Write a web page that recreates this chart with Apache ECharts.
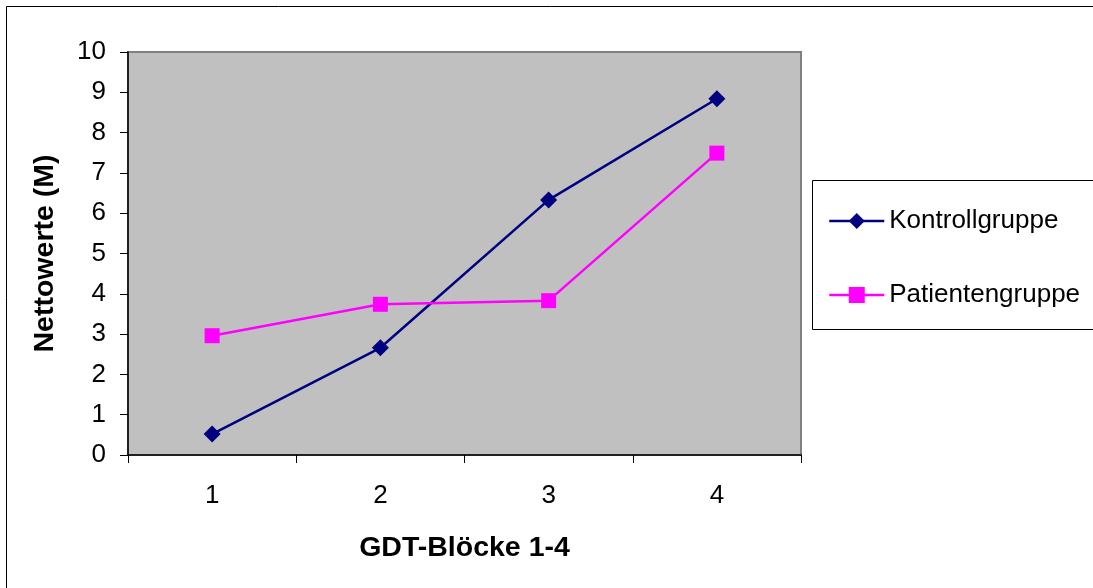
<!DOCTYPE html>
<html>
<head>
<meta charset="utf-8">
<script src="https://cdn.jsdelivr.net/npm/echarts@6/dist/echarts.min.js"></script>
<style>
  html, body { margin: 0; padding: 0; background: #fff; }
  #chart { width: 1093px; height: 588px; }
</style>
</head>
<body>
<div id="chart"></div>
<script>
// GDT blocks on the x axis
const blocks = ['1', '2', '3', '4'];
// Mean net scores per block
const kontrollgruppe = [0.52, 2.66, 6.33, 8.84];
const patientengruppe = [2.96, 3.74, 3.83, 7.49];
const seriesNames = ['Kontrollgruppe', 'Patientengruppe'];
const xTitle = 'GDT-Blöcke 1-4';
const yTitle = 'Nettowerte (M)';

const FONT = '"Liberation Sans", Arial, sans-serif';

const chart = echarts.init(document.getElementById('chart'), null, { renderer: 'canvas' });

chart.setOption({
  backgroundColor: '#ffffff',
  animation: false,
  textStyle: { fontFamily: FONT, color: '#000' },
  graphic: [
    // outer chart frame
    { type: 'rect', z: -10, shape: { x: 6.5, y: 6.5, width: 1200, height: 700 },
      style: { fill: 'none', stroke: '#000', lineWidth: 1 } },
    // legend frame
    { type: 'rect', z: 5, shape: { x: 812.5, y: 180.5, width: 400, height: 149 },
      style: { fill: '#fff', stroke: '#000', lineWidth: 1 } }
  ],
  grid: {
    left: 128, right: 292, top: 52, bottom: 133,
    show: true, backgroundColor: '#c0c0c0',
    borderColor: '#808080', borderWidth: 2
  },
  legend: {
    orient: 'vertical',
    left: 823, top: 203,
    itemWidth: 55, itemHeight: 20,
    itemGap: 48,
    z: 10,
    lineStyle: { width: 2.5 },
    textStyle: { fontFamily: FONT, fontSize: 26, color: '#000' },
    data: seriesNames
  },
  xAxis: {
    type: 'category',
    data: blocks,
    boundaryGap: true,
    name: xTitle,
    nameLocation: 'middle',
    nameGap: 79,
    nameTextStyle: { fontFamily: FONT, fontSize: 28.5, fontWeight: 'bold', color: '#000' },
    axisLine: { lineStyle: { color: '#000', width: 1.5 } },
    axisTick: { show: true, length: 8, alignWithLabel: false, lineStyle: { color: '#000' } },
    axisLabel: { fontFamily: FONT, fontSize: 26, color: '#000', margin: 28 },
    splitLine: { show: false }
  },
  yAxis: {
    type: 'value',
    min: 0, max: 10, interval: 1,
    name: yTitle,
    nameLocation: 'middle',
    nameGap: 68,
    nameTextStyle: { fontFamily: FONT, fontSize: 28.5, fontWeight: 'bold', color: '#000' },
    axisLine: { show: true, lineStyle: { color: '#000', width: 1.5 } },
    axisTick: { show: true, length: 8, lineStyle: { color: '#000' } },
    axisLabel: { fontFamily: FONT, fontSize: 26, color: '#000', margin: 22 },
    splitLine: { show: false }
  },
  series: [
    {
      name: seriesNames[0],
      type: 'line',
      data: kontrollgruppe,
      symbol: 'diamond',
      symbolSize: 17,
      lineStyle: { color: '#000080', width: 2.5 },
      itemStyle: { color: '#000080' }
    },
    {
      name: seriesNames[1],
      type: 'line',
      data: patientengruppe,
      symbol: 'rect',
      symbolSize: 15,
      lineStyle: { color: '#ff00ff', width: 2.5 },
      itemStyle: { color: '#ff00ff' }
    }
  ]
});
</script>
</body>
</html>
